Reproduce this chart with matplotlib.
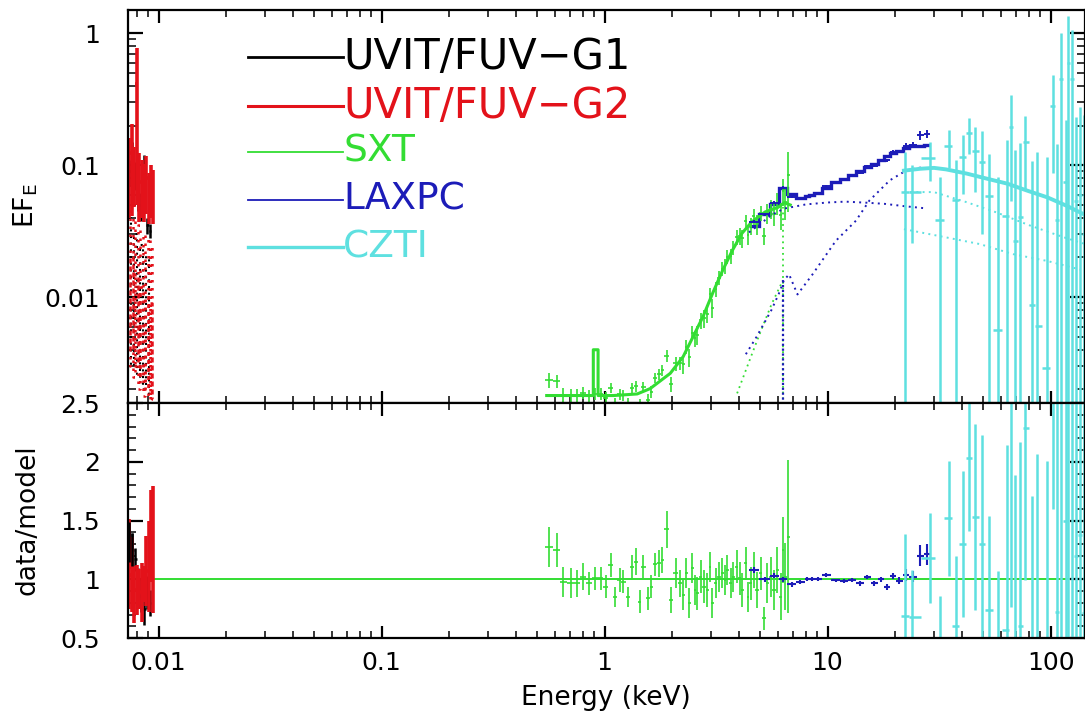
import numpy as np
import matplotlib
matplotlib.use('Agg')
import matplotlib.pyplot as plt
from matplotlib.lines import Line2D
from matplotlib.ticker import FixedLocator, FixedFormatter, LogLocator, MultipleLocator, NullFormatter

plt.rcParams['font.family'] = 'DejaVu Sans'
plt.rcParams['mathtext.fontset'] = 'dejavusans'

# colours (xspec/pgplot style)
c_g1 = 'black'
c_g2 = '#e3121a'
c_sxt = '#33dd33'
c_lax = '#1c1cb8'
c_czt = '#5ee0e0'

# ---------------- UVIT / FUV grating G1 (black) ----------------
g1_energy = [0.00739, 0.00760, 0.00784, 0.00810, 0.00836, 0.00862, 0.00890, 0.00915]
g1_flux = [0.09, 0.12, 0.085, 0.06, 0.05, 0.10, 0.035, 0.032]
g1_flux_err = [0.02, 0.03, 0.02, 0.015, 0.012, 0.02, 0.005, 0.004]
g1_ratio = [1.32, 1.25, 1.17, 1.0, 0.86, 0.75, 0.89, 0.8]
g1_ratio_err = [0.17, 0.14, 0.10, 0.10, 0.14, 0.14, 0.14, 0.11]
g1_comp = [0.04, 0.003, 0.03, 0.0025, 0.025, 0.002, 0.02, 0.0018]

# ---------------- UVIT / FUV grating G2 (red) ----------------
g2_energy = [0.00739, 0.00757, 0.00776, 0.00797, 0.00818, 0.00839, 0.00861, 0.00882, 0.00906, 0.00929, 0.00946]
g2_flux = [0.10, 0.124, 0.093, 0.41, 0.08, 0.075, 0.07, 0.08, 0.062, 0.07, 0.064]
g2_flux_err = [0.06, 0.083, 0.045, 0.36, 0.043, 0.035, 0.033, 0.037, 0.026, 0.03, 0.028]
g2_ratio = [1.13, 1.04, 0.87, 0.91, 0.92, 0.89, 0.96, 1.07, 1.11, 1.37, 1.25]
g2_ratio_err = [0.38, 0.32, 0.24, 0.21, 0.17, 0.25, 0.15, 0.30, 0.39, 0.39, 0.54]
g2_comp1 = [0.045, 0.004, 0.040, 0.003, 0.035, 0.0025, 0.030, 0.002, 0.028, 0.0018, 0.025]
g2_comp2 = [0.003, 0.020, 0.0025, 0.015, 0.002, 0.012, 0.0018, 0.010, 0.0017, 0.009, 0.0017]

# ---------------- SXT (green) ----------------
sxt_energy = [0.563, 0.609, 0.652, 0.709, 0.754, 0.802, 0.850, 0.902, 0.960, 1.010,
              1.064, 1.109, 1.168, 1.213, 1.277, 1.331, 1.378, 1.436, 1.491, 1.564,
              1.619, 1.682, 1.753, 1.814, 1.898, 1.979, 2.081, 2.178, 2.255, 2.324,
              2.391, 2.474, 2.542, 2.604, 2.694, 2.79, 2.89, 2.97, 3.04, 3.15,
              3.26, 3.37, 3.47, 3.55, 3.68, 3.78, 3.91, 4.05, 4.15, 4.29,
              4.39, 4.52, 4.68, 4.81, 5.01, 5.18, 5.37, 5.56, 5.75, 5.96,
              6.16, 6.32, 6.47, 6.66]
sxt_flux = [0.00236, 0.00231, 0.00181, 0.00179, 0.00179, 0.00189, 0.00179, 0.00186, 0.00186, 0.00173,
            0.00207, 0.00158, 0.00184, 0.00181, 0.00158, 0.00205, 0.00213, 0.00150, 0.0021, 0.00166,
            0.00193, 0.00246, 0.00261, 0.00279, 0.0036, 0.0022, 0.00315, 0.00318, 0.0031, 0.0042,
            0.0035, 0.0054, 0.0049, 0.0052, 0.0067, 0.0069, 0.0075, 0.0106, 0.0083, 0.0115,
            0.0141, 0.0165, 0.0173, 0.0203, 0.0206, 0.0238, 0.0286, 0.0292, 0.028, 0.0375,
            0.0294, 0.0349, 0.041, 0.0359, 0.0436, 0.029, 0.0432, 0.047, 0.0427, 0.0518,
            0.0418, 0.064, 0.053, 0.085]
sxt_ratio = [1.277, 1.249, 0.979, 0.965, 0.965, 1.022, 0.965, 1.008, 1.008, 0.937,
             1.121, 0.852, 0.994, 0.979, 0.852, 1.107, 1.150, 0.809, 1.107, 0.838,
             0.937, 1.127, 1.135, 1.164, 1.425, 0.823, 1.050, 0.965, 0.866, 1.050,
             0.795, 1.093, 0.909, 0.880, 1.022, 0.937, 0.909, 1.107, 0.795, 0.965,
             1.022, 1.050, 0.994, 1.079, 0.965, 1.022, 1.107, 1.008, 0.909, 1.135,
             0.852, 0.965, 1.079, 0.909, 1.050, 0.667, 0.965, 1.022, 0.909, 1.079,
             0.852, 1.249, 1.022, 1.362]
sxt_ratio_err = [0.17, 0.142, 0.128, 0.128, 0.113, 0.113, 0.099, 0.099, 0.099, 0.099,
                 0.099, 0.085, 0.099, 0.099, 0.085, 0.099, 0.113, 0.099, 0.099, 0.099,
                 0.099, 0.099, 0.113, 0.113, 0.156, 0.113, 0.128, 0.113, 0.128, 0.128,
                 0.128, 0.128, 0.128, 0.142, 0.142, 0.142, 0.142, 0.128, 0.128, 0.128,
                 0.128, 0.128, 0.128, 0.128, 0.128, 0.128, 0.142, 0.142, 0.142, 0.142,
                 0.128, 0.142, 0.156, 0.156, 0.142, 0.099, 0.17, 0.17, 0.17, 0.199,
                 0.199, 0.284, 0.284, 0.652]
sxt_model_E = [0.55, 0.80, 0.89, 0.89, 0.935, 0.935, 1.1, 1.4, 1.6, 1.97, 2.25, 2.49, 2.76,
               3.05, 3.38, 3.74, 4.13, 4.57, 5.25, 6.0, 6.4, 6.8]
sxt_model_F = [0.0018, 0.0018, 0.0018, 0.0040, 0.0040, 0.0018, 0.0018, 0.00185, 0.00203,
               0.00265, 0.00354, 0.0050, 0.0071, 0.0107, 0.0159, 0.0226, 0.0305, 0.0372,
               0.0443, 0.048, 0.052, 0.050]
sxt_comp_E = [3.93, 4.43, 4.9, 5.6, 6.3]
sxt_comp_F = [0.00187, 0.0032, 0.005, 0.0088, 0.0134]
sxt_line_E = 6.3
sxt_line_F = 0.048

# ---------------- LAXPC (blue) ----------------
lax_edges = [4.44, 4.94, 5.51, 6.03, 6.59, 7.21, 7.89, 8.25, 8.7, 9.4, 10.4, 11.4, 12.35,
             13.4, 14.55, 15.65, 16.8, 17.95, 19.1, 20.35, 21.7, 23.2, 25.1, 27.1, 28.8]
lax_model = [0.0347, 0.0425, 0.0506, 0.0677, 0.0603, 0.0569, 0.058, 0.0595, 0.062, 0.067,
             0.074, 0.079, 0.084, 0.091, 0.097, 0.103, 0.110, 0.117, 0.123, 0.129, 0.135,
             0.139, 0.141, 0.142]
lax_ratio = [1.077, 1.0, 1.03, 1.0, 0.957, 0.977, 1.0, 1.0, 1.0, 1.037, 0.99, 0.986, 0.994,
             0.966, 1.02, 0.966, 1.0, 0.934, 1.03, 0.986, 1.034, 1.023, 1.2, 1.214]
lax_ratio_err = [0.025, 0.02, 0.02, 0.02, 0.02, 0.02, 0.015, 0.015, 0.015, 0.02, 0.015, 0.015,
                 0.015, 0.02, 0.02, 0.02, 0.02, 0.025, 0.025, 0.03, 0.05, 0.05, 0.09, 0.09]
lax_compA_E = [4.44, 5.0, 5.6, 6.4, 8.0, 10.0, 12.0, 15.0, 18.0, 22.0, 28.0]
lax_compA_F = [0.031, 0.036, 0.042, 0.047, 0.0505, 0.0522, 0.053, 0.052, 0.051, 0.049, 0.047]
lax_compB_E = [4.3, 4.8, 5.6, 6.1, 6.36, 6.72, 7.33, 8.56, 10.9, 13.4, 15.4, 19.0, 22.6, 27.0]
lax_compB_F = [0.0037, 0.0050, 0.0080, 0.011, 0.0134, 0.0149, 0.0105, 0.0149, 0.0268, 0.038,
               0.054, 0.0768, 0.0916, 0.097]
lax_line_E = 6.33
lax_line_F = 0.0134

# ---------------- CZTI (cyan) ----------------
czt_energy = [22.2, 24.0, 28.7, 31.9, 35.0, 37.5, 40.3, 43.2, 45.9, 49.5, 52.7, 57.9, 63.8,
              66.8, 69.5, 73.3, 77.0, 82.8, 87.0, 96.6, 102.9, 107.2, 111.6, 116.7, 119.6,
              125.0, 130.6, 136.2, 141.0]
czt_flux = [0.0624, 0.0626, 0.1125, 0.0387, 0.1406, 0.0546, 0.1157, 0.1756, 0.129, 0.1066,
            0.0582, 0.0056, 0.0414, 0.196, 0.0269, 0.0405, 0.15, 0.0088, 0.0061, 0.0029,
            0.283, 0.0382, 0.45, 0.074, 0.6, 0.45, 0.054, 0.06, 0.03]
czt_flux_err = [0.0637, 0.037, 0.0362, 0.0425, 0.0453, 0.0546, 0.0552, 0.0536, 0.0668, 0.0763,
                0.0632, 0.076, 0.114, 0.142, 0.1035, 0.106, 0.085, 0.098, 0.12, 0.112,
                0.196, 0.106, 0.55, 0.148, 0.75, 0.6, 0.18, 0.2175, 0.21]
czt_ratio = [0.686, 0.677, 1.18, 0.41, 1.52, 0.60, 1.30, 2.03, 1.53, 1.30, 0.737, 0.074, 0.571,
             2.76, 0.39, 0.60, 2.29, 0.14, 0.10, 0.05, 5.2, 0.72, 8.8, 1.5, 12.4, 9.7, 1.2,
             1.38, 0.71]
czt_ratio_err = [0.70, 0.40, 0.38, 0.45, 0.49, 0.60, 0.62, 0.62, 0.79, 0.93, 0.80, 1.0, 1.57,
                 2.0, 1.5, 1.57, 1.3, 1.57, 1.97, 1.96, 3.6, 2.0, 10.8, 3.0, 15.5, 12.9, 4.0,
                 5.0, 5.0]
czt_model_E = [22, 26, 30, 34, 42, 52, 64, 79, 97, 119, 143]
czt_model_F = [0.091, 0.094, 0.0955, 0.093, 0.0865, 0.079, 0.0725, 0.064, 0.057, 0.049, 0.042]
czt_comp1_E = [22, 30, 42, 57, 81, 115, 143]
czt_comp1_F = [0.0626, 0.0626, 0.0525, 0.044, 0.0349, 0.0284, 0.0253]
czt_comp2_E = [22, 34, 48, 68, 97, 136]
czt_comp2_F = [0.0328, 0.0284, 0.0253, 0.0212, 0.0188, 0.0162]

x_ticks = [0.01, 0.1, 1, 10, 100]
x_ticklabels = ['0.01', '0.1', '1', '10', '100']
top_yticks = [0.01, 0.1, 1]
top_yticklabels = ['0.01', '0.1', '1']
bot_yticks = [0.5, 1, 1.5, 2, 2.5]
bot_yticklabels = ['0.5', '1', '1.5', '2', '2.5']


def half_bins(e):
    # x error bars: half way (in log) to the neighbouring bins
    e = np.asarray(e, dtype=float)
    mid = np.sqrt(e[1:] * e[:-1])
    lo = np.concatenate([[e[0] ** 2 / mid[0]], mid])
    hi = np.concatenate([mid, [e[-1] ** 2 / mid[-1]]])
    return [e - lo, hi - e]


lax_edges = np.array(lax_edges)
lax_lo, lax_hi = lax_edges[:-1], lax_edges[1:]
lax_energy = np.sqrt(lax_lo * lax_hi)
lax_flux = np.array(lax_model) * np.array(lax_ratio)        # data = model * (data/model)
lax_flux_err = np.array(lax_model) * np.array(lax_ratio_err)
sxt_flux_err = np.array(sxt_flux) * np.array(sxt_ratio_err) / np.array(sxt_ratio)

dots = (0, (1, 2.2))

fig = plt.figure(figsize=(10.85, 7.15), dpi=100)
W, H = 1085.0, 715.0
ax1 = fig.add_axes([128 / W, 1 - 403 / H, 957 / W, 393 / H])
ax2 = fig.add_axes([128 / W, 1 - 638 / H, 957 / W, 235 / H], sharex=ax1)

ax1.set_xscale('log')
ax1.set_yscale('log', nonpositive='clip')
ax1.set_xlim(0.00729, 142.7)
ax1.set_ylim(0.00158, 1.5)
ax2.set_ylim(0.5, 2.5)

# ---- top panel: EF_E ----
ax1.errorbar(sxt_energy, sxt_flux, xerr=half_bins(sxt_energy), yerr=sxt_flux_err,
             fmt='none', ecolor=c_sxt, elinewidth=1.2)
ax1.plot(sxt_model_E, sxt_model_F, color=c_sxt, lw=2.2)
ax1.plot(sxt_comp_E, sxt_comp_F, color=c_sxt, lw=1.3, ls=dots)
ax1.vlines(sxt_line_E, 1e-4, sxt_line_F, colors=c_sxt, lw=1.3, linestyles=dots)

ax1.errorbar(lax_energy, lax_flux, xerr=[lax_energy - lax_lo, lax_hi - lax_energy],
             yerr=lax_flux_err, fmt='none', ecolor=c_lax, elinewidth=1.4)
ax1.stairs(lax_model, lax_edges, baseline=None, color=c_lax, lw=2.4)
ax1.plot(lax_compA_E, lax_compA_F, color=c_lax, lw=1.4, ls=dots)
ax1.plot(lax_compB_E, lax_compB_F, color=c_lax, lw=1.4, ls=dots)
ax1.vlines(lax_line_E, 1e-4, lax_line_F, colors=c_lax, lw=1.6, linestyles=(0, (1, 1.2)))

ax1.errorbar(czt_energy, czt_flux, xerr=half_bins(czt_energy), yerr=czt_flux_err,
             fmt='none', ecolor=c_czt, elinewidth=1.8)
ax1.plot(czt_model_E, czt_model_F, color=c_czt, lw=2.8)
ax1.plot(czt_comp1_E, czt_comp1_F, color=c_czt, lw=1.4, ls=dots)
ax1.plot(czt_comp2_E, czt_comp2_F, color=c_czt, lw=1.4, ls=dots)

ax1.step(g1_energy, g1_comp, where='mid', color=c_g1, lw=1.5, ls=dots)
ax1.step(g2_energy, g2_comp1, where='mid', color=c_g2, lw=1.8, ls=dots)
ax1.step(g2_energy, g2_comp2, where='mid', color=c_g2, lw=1.8, ls=dots)
ax1.errorbar(g1_energy, g1_flux, xerr=half_bins(g1_energy), yerr=g1_flux_err,
             fmt='none', ecolor=c_g1, elinewidth=1.8)
ax1.errorbar(g2_energy, g2_flux, xerr=half_bins(g2_energy), yerr=g2_flux_err,
             fmt='none', ecolor=c_g2, elinewidth=2.6)

# ---- bottom panel: data/model ----
ax2.axhline(1.0, color=c_sxt, lw=1.4, zorder=1)
ax2.errorbar(sxt_energy, sxt_ratio, xerr=half_bins(sxt_energy), yerr=sxt_ratio_err,
             fmt='none', ecolor=c_sxt, elinewidth=1.2)
ax2.errorbar(lax_energy, lax_ratio, xerr=[lax_energy - lax_lo, lax_hi - lax_energy],
             yerr=lax_ratio_err, fmt='none', ecolor=c_lax, elinewidth=1.5)
ax2.errorbar(czt_energy, czt_ratio, xerr=half_bins(czt_energy), yerr=czt_ratio_err,
             fmt='none', ecolor=c_czt, elinewidth=1.8)
ax2.errorbar(g1_energy, g1_ratio, xerr=half_bins(g1_energy), yerr=g1_ratio_err,
             fmt='none', ecolor=c_g1, elinewidth=1.8)
ax2.errorbar(g2_energy, g2_ratio, xerr=half_bins(g2_energy), yerr=g2_ratio_err,
             fmt='none', ecolor=c_g2, elinewidth=2.6)
ax2.errorbar(g1_energy[:2], g1_ratio[:2], yerr=g1_ratio_err[:2],
             fmt='none', ecolor=c_g1, elinewidth=1.8)

# ---- axes cosmetics ----
for ax in (ax1, ax2):
    for s in ax.spines.values():
        s.set_linewidth(1.6)
    ax.tick_params(which='both', direction='in', top=True, right=True, labelsize=18)
    ax.tick_params(axis='x', which='major', length=9, width=1.6)
    ax.tick_params(axis='x', which='minor', length=5, width=1.1)
    ax.tick_params(axis='y', which='major', length=11, width=1.6, pad=20)
    ax.tick_params(axis='y', which='minor', length=6, width=1.1)
    ax.xaxis.set_major_locator(FixedLocator(x_ticks))
    ax.xaxis.set_minor_locator(LogLocator(base=10, subs=np.arange(2, 10), numticks=20))
    ax.xaxis.set_minor_formatter(NullFormatter())

ax1.tick_params(axis='x', labelbottom=False)
ax1.yaxis.set_major_locator(FixedLocator(top_yticks))
ax1.yaxis.set_major_formatter(FixedFormatter(top_yticklabels))
ax1.yaxis.set_minor_locator(LogLocator(base=10, subs=np.arange(2, 10), numticks=20))
ax1.yaxis.set_minor_formatter(NullFormatter())

ax2.xaxis.set_major_formatter(FixedFormatter(x_ticklabels))
ax2.tick_params(axis='x', pad=9)
ax2.yaxis.set_major_locator(FixedLocator(bot_yticks))
ax2.yaxis.set_major_formatter(FixedFormatter(bot_yticklabels))
ax2.yaxis.set_minor_locator(MultipleLocator(0.1))

# axis titles
fig.text(26 / W, 1 - 206 / H, r'EF$_{\mathrm{E}}$', rotation=90, ha='center', va='center', fontsize=19)
fig.text(28 / W, 1 - 520 / H, 'data/model', rotation=90, ha='center', va='center', fontsize=19)
fig.text(606 / W, 1 - 698 / H, 'Energy (keV)', ha='center', va='center', fontsize=19)

# legend (xspec style: line segment followed by coloured label)
legend_rows = [('UVIT/FUV\u2212G1', c_g1, 2.0, 57, 30),
               ('UVIT/FUV\u2212G2', c_g2, 2.2, 106, 30),
               ('SXT', c_sxt, 1.3, 152, 27),
               ('LAXPC', c_lax, 1.3, 200, 27),
               ('CZTI', c_czt, 2.4, 247, 27)]
for label, col, lw, ypx, fs in legend_rows:
    fig.add_artist(Line2D([248 / W, 343 / W], [1 - ypx / H] * 2, transform=fig.transFigure,
                          color=col, lw=lw))
    fig.text(343 / W, 1 - ypx / H, label, color=col, fontsize=fs, ha='left', va='center')

fig.savefig('out.png', dpi=100)
